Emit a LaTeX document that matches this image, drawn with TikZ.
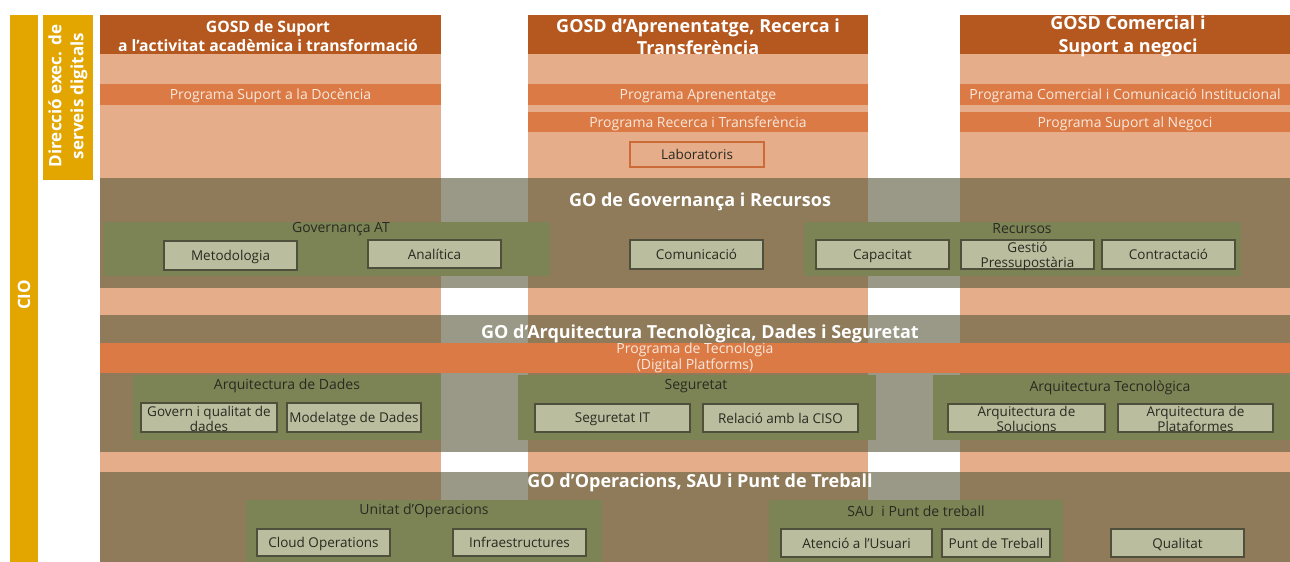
\documentclass[tikz,border=0pt]{standalone}
\usepackage{fontspec}
\setmainfont{Open Sans}
\definecolor{ybar}{HTML}{E3A600}
\definecolor{hdr}{HTML}{B5581F}
\definecolor{salm}{HTML}{E5AD8A}
\definecolor{prog}{HTML}{DC7A45}
\definecolor{brn}{HTML}{8F7B5A}
\definecolor{gcol}{HTML}{9A9987}
\definecolor{grn}{HTML}{7C8456}
\definecolor{leaff}{HTML}{BBBD9F}
\definecolor{leafb}{HTML}{4F4F3C}
\definecolor{txt}{HTML}{2A2A20}
\definecolor{ptxt}{HTML}{F8E8DC}
\definecolor{labb}{HTML}{CC6A38}
\newcommand\rbox[7]{\node[#1,minimum width={(#5-#3)*1pt},minimum height={(#6-#4)*1pt}] (#2) at ({(#3+#5)/2},{(#4+#6)/2}) {#7};}
\begin{document}
\begin{tikzpicture}[x=1pt,y=-1pt,
  plain/.style={inner sep=0,outer sep=0},
  bar/.style={plain,fill=ybar},
  body/.style={plain,fill=salm},
  hdrbox/.style={plain,fill=hdr},
  progbox/.style={plain,fill=prog},
  band/.style={plain,fill=brn},
  gap/.style={plain,fill=gcol},
  grp/.style={plain,fill=grn},
  leaf/.style={draw=leafb,line width=1.3pt,fill=leaff,inner sep=0,text=txt,font=\fontsize{13.5}{15}\selectfont,align=center,text depth=0pt},
  leaftext/.style={inner sep=0,text=txt,font=\fontsize{13.5}{15}\selectfont,align=center},
  grplabel/.style={inner sep=0,text=txt,font=\fontsize{14}{15}\selectfont},
  hdrtext/.style={inner sep=0,text=white,align=center},
  gotitle/.style={inner sep=0,text=white,font=\bfseries\fontsize{18}{20}\selectfont},
  progtext/.style={inner sep=0,text=ptxt,font=\fontsize{14}{16}\selectfont,align=center},
  progline/.style={progtext,text depth=0pt},
  vtext/.style={inner sep=0,text=white,font=\bfseries\fontsize{17}{22}\selectfont,align=center,rotate=90}
]
\useasboundingbox[fill=white] (0,0) rectangle (1290,562);
% side bars
\rbox{bar}{cio}{10}{15}{38}{562}{}
\rbox{bar}{dir}{43}{15}{93}{180}{}
\node[vtext] (ciot) at (24,295) {CIO};
\node[vtext] (dirt) at (68,96) {Direcció exec. de\\serveis digitals};
% column bodies
\rbox{body}{c1}{100}{54}{441}{562}{}
\rbox{body}{c2}{528}{54}{868}{562}{}
\rbox{body}{c3}{960}{54}{1290}{562}{}
% headers
\rbox{hdrbox}{h1}{100}{15}{441}{54}{}
\rbox{hdrbox}{h2}{528}{15}{868}{54}{}
\rbox{hdrbox}{h3}{960}{15}{1290}{54}{}
\node[hdrtext,font=\bfseries\fontsize{15.7}{19}\selectfont] (h1t) at (268,36) {GOSD de Suport\\a l’activitat acadèmica i transformació};
\node[hdrtext,font=\bfseries\fontsize{18}{22}\selectfont] (h2t) at (698,37) {GOSD d’Aprenentatge, Recerca i\\Transferència};
\node[hdrtext,font=\bfseries\fontsize{18}{23}\selectfont] (h3t) at (1128,36) {GOSD Comercial i\\Suport a negoci};
% program bands
\rbox{progbox}{p1}{100}{84}{441}{105}{}
\rbox{progbox}{p2a}{528}{84}{868}{105}{}
\rbox{progbox}{p2b}{528}{112}{868}{132}{}
\rbox{progbox}{p3a}{960}{84}{1290}{105}{}
\rbox{progbox}{p3b}{960}{112}{1290}{132}{}
\node[progline] (p1t) at (p1) {Programa Suport a la Docència};
\node[progline] (p2at) at (p2a) {Programa Aprenentatge};
\node[progline] (p2bt) at (p2b) {Programa Recerca i Transferència};
\node[progline] (p3at) at (p3a) {Programa Comercial i Comunicació Institucional};
\node[progline] (p3bt) at (p3b) {Programa Suport al Negoci};
\rbox{leaf,fill=salm,draw=labb}{lab}{630}{142}{764}{167}{Laboratoris}
% GO bands
\rbox{band}{go1}{100}{178}{1290}{288}{}
\rbox{band}{go2}{100}{315}{1290}{452}{}
\rbox{band}{go3}{100}{472}{1290}{562}{}
\rbox{gap}{g1a}{441}{178}{528}{288}{}
\rbox{gap}{g1b}{868}{178}{960}{288}{}
\rbox{gap}{g2a}{441}{315}{528}{452}{}
\rbox{gap}{g2b}{868}{315}{960}{452}{}
\rbox{gap}{g3a}{441}{472}{528}{562}{}
\rbox{gap}{g3b}{868}{472}{960}{562}{}
\node[gotitle] (go1t) at (700,202) {GO de Governança i Recursos};
\node[gotitle] (go2t) at (700,334) {GO d’Arquitectura Tecnològica, Dades i Seguretat};
\node[gotitle] (go3t) at (700,483) {GO d’Operacions, SAU i Punt de Treball};
% GO Governança
\rbox{grp}{gat}{104}{222}{550}{276}{}
\node[grplabel] (gatl) at (341,229) {Governança AT};
\rbox{leaf}{met}{164}{241}{297}{270}{Metodologia}
\rbox{leaf}{ana}{368}{240}{501}{268}{Analítica}
\rbox{leaf}{com}{630}{240}{763}{269}{Comunicació}
\rbox{grp}{rec}{804}{222}{1241}{276}{}
\node[grplabel] (recl) at (1022,229) {Recursos};
\rbox{leaf}{cap}{816}{240}{949}{269}{Capacitat}
\rbox{leaf}{gpr}{961}{240}{1094}{269}{}
\node[leaftext] (gprt) at (1027.5,256) {Gestió\\Pressupostària};
\rbox{leaf}{con}{1102}{240}{1235}{269}{Contractació}
% GO Arquitectura
\rbox{progbox}{ptec}{100}{343}{1290}{373}{}
\node[progtext] (ptect) at (695,358) {Programa de Tecnologia\\(Digital Platforms)};
\rbox{grp}{adad}{133}{375}{441}{440}{}
\node[grplabel] (adadl) at (287,386) {Arquitectura de Dades};
\rbox{leaf}{gov}{141}{403}{277}{432}{}
\node[leaftext] (govt) at (209,419) {Govern i qualitat de\\dades};
\rbox{leaf}{mod}{287}{403}{421}{432}{Modelatge de Dades}
\rbox{grp}{seg}{518}{375}{876}{440}{}
\node[grplabel] (segl) at (696,386) {Seguretat};
\rbox{leaf}{segit}{535}{404}{690}{432}{Seguretat IT}
\rbox{leaf}{ciso}{703}{404}{858}{432}{Relació amb la CISO}
\rbox{grp}{atec}{933}{375}{1290}{440}{}
\node[grplabel] (atecl) at (1110,388) {Arquitectura Tecnològica};
\rbox{leaf}{asol}{948}{404}{1105}{432}{}
\node[leaftext] (asolt) at (1026.5,419) {Arquitectura de\\Solucions};
\rbox{leaf}{apla}{1118}{404}{1273}{432}{}
\node[leaftext] (aplat) at (1195.5,419) {Arquitectura de\\Plataformes};
% GO Operacions
\rbox{grp}{uop}{246}{500}{602}{562}{}
\node[grplabel] (uopl) at (424,511) {Unitat d’Operacions};
\rbox{leaf}{cloud}{257}{529}{390}{556}{Cloud Operations}
\rbox{leaf}{infra}{453}{529}{586}{556}{Infraestructures}
\rbox{grp}{sau}{769}{500}{1063}{562}{}
\node[grplabel] (saul) at (916,511) {SAU\ \ i Punt de treball};
\rbox{leaf}{aten}{781}{529}{932}{557}{Atenció a l’Usuari}
\rbox{leaf}{punt}{942}{529}{1050}{557}{Punt de Treball}
\rbox{leaf}{qual}{1111}{529}{1244}{557}{Qualitat}
\end{tikzpicture}
\end{document}
